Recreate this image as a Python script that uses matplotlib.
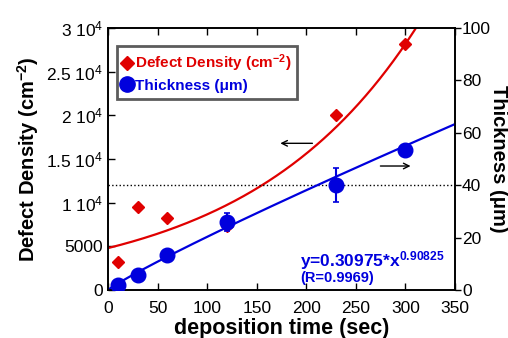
import numpy as np
import matplotlib.pyplot as plt
from matplotlib.lines import Line2D

plt.rcParams['font.family'] = ['Liberation Sans', 'DejaVu Sans']
plt.rcParams['mathtext.fontset'] = 'custom'
plt.rcParams['mathtext.rm'] = 'Liberation Sans'
plt.rcParams['mathtext.bf'] = 'Liberation Sans:bold'
plt.rcParams['mathtext.it'] = 'Liberation Sans:italic'

# data
time_defect = [10, 30, 60, 120, 230, 300]
defect = [3200, 9500, 8200, 7300, 20000, 28200]

time_thick = [10, 30, 60, 120, 230, 300]
thick = [2.0, 5.8, 13.5, 26.0, 40.0, 53.5]
thick_err = [0.5, 0.8, 0.8, 3.5, 6.5, 1.8]

# fit parameters
red_a, red_b = 4800, 0.0059
blue_a, blue_b = 0.30975, 0.90825

left_ticks = [0, 5000, 10000, 15000, 20000, 25000, 30000]
left_labels = ['0', '5000', '1 10$^4$', '1.5 10$^4$', '2 10$^4$', '2.5 10$^4$', '3 10$^4$']
right_ticks = [0, 20, 40, 60, 80, 100]
x_ticks = [0, 50, 100, 150, 200, 250, 300, 350]

red = '#e00000'
blue = '#0000dd'

fig = plt.figure(figsize=(5.08, 3.38), dpi=100)
ax1 = fig.add_axes([0.2126, 0.142, 0.683, 0.775])
ax2 = ax1.twinx()

tt = np.linspace(0, 350, 300)
ax1.plot(tt, red_a * np.exp(red_b * tt), color=red, lw=1.6, zorder=2)
ax1.plot(time_defect, defect, 'D', color=red, ms=6.5, zorder=3)
ax1.axhline(12000, color='black', ls=':', lw=1.0)

ax2.plot(tt, blue_a * tt ** blue_b, color=blue, lw=1.6, zorder=2)
ax2.errorbar(time_thick, thick, yerr=thick_err, fmt='o', color=blue, ms=10.5,
             capsize=2.5, elinewidth=1.5, capthick=1.2, zorder=3)

ax1.set_xlim(0, 350)
ax1.set_ylim(0, 30000)
ax2.set_ylim(0, 100)
ax1.set_xticks(x_ticks)
ax1.set_yticks(left_ticks)
ax1.set_yticklabels(left_labels)
ax2.set_yticks(right_ticks)

for ax in (ax1, ax2):
    for s in ax.spines.values():
        s.set_linewidth(1.2)
ax1.tick_params(direction='in', labelsize=12.5, width=1.0, length=5, top=True)
ax2.tick_params(direction='out', labelsize=12.5, width=1.0, length=4, pad=1)
ax1.tick_params(axis='x', pad=8)

ax1.set_xlabel('deposition time (sec)', fontsize=15.5, fontweight='bold', labelpad=1)
ax1.set_ylabel('Defect Density (cm$^{\\mathbf{-2}}$)', fontsize=14.5, fontweight='bold', labelpad=4)
ax2.set_ylabel('Thickness (\u03bcm)', fontsize=14.5, fontweight='bold', rotation=270,
               va='center', ha='center')
ax2.yaxis.set_label_coords(1.126, 0.5)

# arrows
ax1.annotate('', xy=(171, 16800), xytext=(209, 16800),
             arrowprops=dict(arrowstyle='->', color='black', lw=1.0))
ax1.annotate('', xy=(308, 14200), xytext=(272, 14200),
             arrowprops=dict(arrowstyle='->', color='black', lw=1.0))

# equation
ax1.text(0.553, 0.09, 'y=0.30975*x$^{\\mathbf{0.90825}}$', transform=ax1.transAxes,
         color=blue, fontsize=12.5, fontweight='bold')
ax1.text(0.553, 0.03, '(R=0.9969)', transform=ax1.transAxes,
         color=blue, fontsize=10.5, fontweight='bold')

handles = [Line2D([], [], marker='D', color=red, ls='none', ms=7.5),
           Line2D([], [], marker='o', color=blue, ls='none', ms=11)]
leg = ax2.legend(handles, ['Defect Density (cm$^{\\mathbf{-2}}$)', 'Thickness (\u03bcm)'],
                 loc='upper left', bbox_to_anchor=(0.025, 0.93), frameon=True,
                 fancybox=False, handlelength=0.6, handletextpad=0.2,
                 borderpad=0.4, labelspacing=0.3, borderaxespad=0,
                 prop={'weight': 'bold', 'size': 11})
leg.get_frame().set_edgecolor('#333333')
leg.get_frame().set_linewidth(2.0)
for txt, c in zip(leg.get_texts(), [red, blue]):
    txt.set_color(c)

fig.savefig('out.png', dpi=100)
